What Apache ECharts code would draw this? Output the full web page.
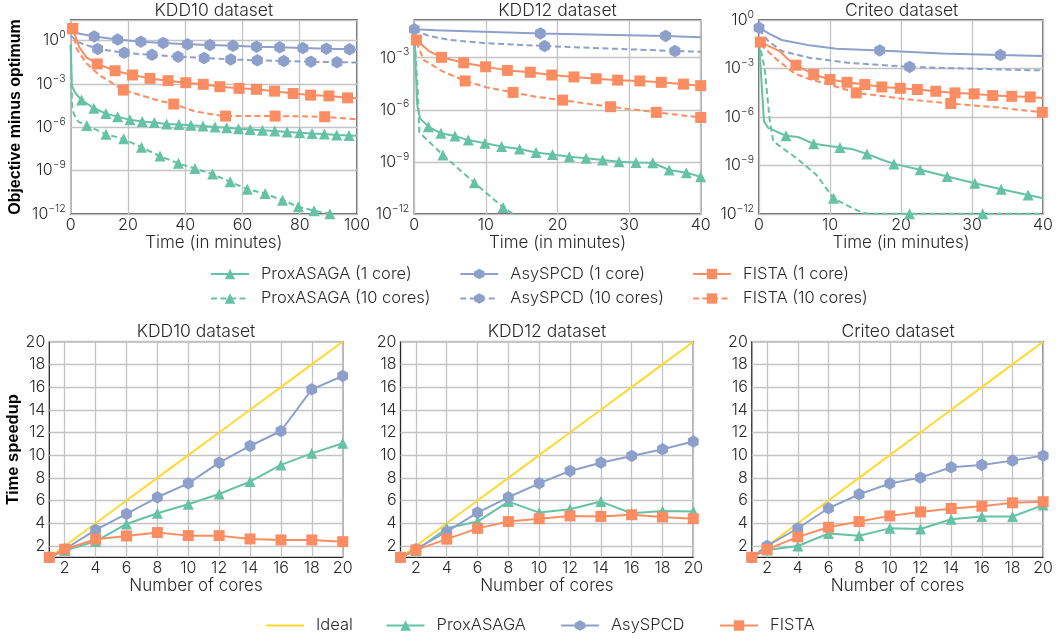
<!DOCTYPE html>
<html><head><meta charset="utf-8">
<script src="https://cdn.jsdelivr.net/npm/echarts@6/dist/echarts.min.js"></script>
<style>html,body{margin:0;padding:0;background:#fff}#c{width:1056px;height:639px}</style>
</head><body><div id="c"></div><script>
// ---------------- DATA ----------------
const topTitles = ['KDD10 dataset', 'KDD12 dataset', 'Criteo dataset'];
const bottomTitles = ['KDD10 dataset', 'KDD12 dataset', 'Criteo dataset'];
const topXMax = [100, 40, 40];
const topXInterval = [20, 10, 10];
const topYMin = 1e-12;
const topYMax = [27, 0.148, 1];

// KDD10 (time in minutes, objective minus optimum); *_line = extra curve points, *_marks = marker points
const k10_prox1_line = [[0,0.5],[0.4,8e-4],[1.5,2.5e-4],[100,2.6e-7]];
const k10_prox1_marks = [[3.8,7.8e-5],[8.1,2.1e-5],[12.3,8.9e-6],[16.4,5.5e-6],[20.7,3.3e-6],[25,2.5e-6],[29.2,2.2e-6],[33.5,1.7e-6],[37.8,1.58e-6],[42,1.38e-6],[46.2,1.26e-6],[50.4,1.07e-6],[54.5,9.5e-7],[58.6,8.1e-7],[62.7,7.1e-7],[67,6.3e-7],[71.3,5.5e-7],[75.6,4.8e-7],[80,4.2e-7],[84.3,3.7e-7],[88.6,3.4e-7],[92.9,3.0e-7],[97.2,2.75e-7]];
const k10_prox10_line = [[0,0.5],[0.5,3e-5],[1,9.3e-6],[2.6,2.5e-6],[96,4e-13],[100,2.5e-13]];
const k10_prox10_marks = [[5.6,1.35e-6],[12.3,3.3e-7],[18.5,1.6e-7],[24.7,4.1e-8],[31.2,1.02e-8],[37.6,3.2e-9],[43.4,1.4e-9],[49.6,5.8e-10],[55.7,1.7e-10],[61.7,5.2e-11],[67.9,2.6e-11],[74,8.9e-12],[79.5,3.2e-12],[85,1.7e-12],[90.5,1.05e-12]];
const k10_asy1_line = [[0,4.0],[100,0.24]];
const k10_asy1_marks = [[8.2,1.95],[16.4,1.2],[24.5,0.85],[32.3,0.7],[40.8,0.56],[48.6,0.5],[56.7,0.44],[64.9,0.38],[73,0.35],[81.1,0.31],[89.3,0.28],[97.4,0.25]];
const k10_asy10_line = [[0,2.3],[2.5,0.8],[100,0.031]];
const k10_asy10_marks = [[9.4,0.27],[18.7,0.145],[28.4,0.104],[37.5,0.078],[46.6,0.063],[55.9,0.05],[65.2,0.044],[74.4,0.039],[83.9,0.035],[93,0.032]];
const k10_fista1_line = [[3,0.35],[5.5,0.07],[100,1.05e-4]];
const k10_fista1_marks = [[0.7,6.8],[9.3,0.0245],[15.5,8.3e-3],[21.6,4.2e-3],[27.7,2.45e-3],[34,1.7e-3],[40.2,1.23e-3],[46.3,9.5e-4],[52.1,6.5e-4],[58.8,5e-4],[64.9,4.3e-4],[71.2,3.2e-4],[77.7,2.2e-4],[83.8,1.7e-4],[90.2,1.5e-4],[96.7,1.1e-4]];
const k10_fista10_line = [[2,0.3],[5.5,0.027],[10,4.2e-3],[13.7,1.45e-3],[24.2,1.7e-4],[30,7.8e-5],[42.8,1.4e-5],[48.6,8.3e-6],[62,6.2e-6],[80,5.8e-6],[100,3.5e-6]];
const k10_fista10_marks = [[0.7,6.8],[18.4,3.8e-4],[36,4.1e-5],[54.1,6e-6],[71.4,6e-6],[88.7,5.4e-6]];

// KDD12
const k12_prox1_line = [[0,0.03],[0.4,2e-6],[0.8,3.2e-7]];
const k12_prox1_marks = [[1.96,1.07e-7],[3.72,4.4e-8],[5.68,3.1e-8],[7.54,1.8e-8],[9.87,1.17e-8],[12.2,7.6e-9],[14.7,5.5e-9],[17,3.5e-9],[19.3,2.7e-9],[21.65,2.0e-9],[24,1.6e-9],[26.3,1.3e-9],[28.6,1.02e-9],[30.96,9.3e-10],[33.3,8.9e-10],[35.6,3.4e-10],[38,2.4e-10],[40,1.4e-10]];
const k12_prox10_line = [[0,0.03],[0.5,1e-5],[0.7,5e-8],[13.8,1e-12],[16,4e-13]];
const k12_prox10_marks = [[4,2.5e-9],[8.4,6.3e-11],[12.4,2.4e-12]];
const k12_asy1_line = [[3,0.038],[40,0.0148]];
const k12_asy1_marks = [[0,0.043],[17.6,0.025],[35.1,0.018]];
const k12_asy10_line = [[0,0.04],[2,0.018],[5,0.0105],[10,6.8e-3],[40,2.2e-3]];
const k12_asy10_marks = [[18.2,4.7e-3],[36.4,2.4e-3]];
const k12_fista1_line = [[2,2.5e-3]];
const k12_fista1_marks = [[0.3,0.0105],[3.8,1.05e-3],[6.9,5.1e-4],[9.96,3.0e-4],[13,1.86e-4],[16.2,1.45e-4],[19.2,1e-4],[22.3,7.8e-5],[25.4,6.2e-5],[28.4,5.1e-5],[31.5,4.6e-5],[34.5,3.8e-5],[37.6,3.0e-5],[40,2.45e-5]];
const k12_fista10_line = [[0.3,8e-3],[1.3,7.4e-4],[4,1.6e-4],[10,2e-5],[17,5.6e-6],[24,2.3e-6],[30.5,1.05e-6],[37,5e-7]];
const k12_fista10_marks = [[7.1,4.6e-5],[13.8,1e-5],[20.7,3.6e-6],[27.4,1.5e-6],[33.8,7.1e-7],[40,3.6e-7]];

// Criteo
const cr_prox1_line = [[0,0.05],[0.7,5.4e-7],[1.3,2.1e-7],[5.5,5.8e-8],[13.2,1.02e-8],[17.4,2.2e-9],[40,9.3e-12]];
const cr_prox1_marks = [[3.8,6.9e-8],[7.7,2.2e-8],[11.4,1.3e-8],[15.2,5.2e-9],[19,1.26e-9],[22.7,5.4e-10],[26.5,2.1e-10],[30.4,7.9e-11],[34.1,3.4e-11],[37.9,1.5e-11]];
const cr_prox10_line = [[0,0.05],[0.8,1e-3],[1.5,6.8e-7],[2,3.1e-8],[5.3,2.8e-9],[8.1,2.6e-10],[12.8,2.8e-12],[14.6,1.2e-12],[15.6,1.02e-12],[40,1.02e-12]];
const cr_prox10_marks = [[10.5,9.3e-12],[21.2,1.02e-12],[31.5,1.02e-12]];
const cr_asy1_line = [[1.5,0.14],[3.2,0.058],[7.1,0.027],[10.9,0.0166],[25.8,8.5e-3],[40,5.9e-3]];
const cr_asy1_marks = [[0,0.33],[17,0.0132],[34,6.8e-3]];
const cr_asy10_line = [[0,0.26],[1.3,0.05],[3.2,0.012],[7.1,4.6e-3],[12.8,2.2e-3],[30.5,9.5e-4],[40,7.6e-4]];
const cr_asy10_marks = [[21.2,1.26e-3]];
const cr_fista1_line = [[2.9,0.012],[4,4e-3],[40,1.5e-5]];
const cr_fista1_marks = [[0.2,0.043],[5.2,1.6e-3],[7.7,4.3e-4],[10,2.1e-4],[12.4,1.4e-4],[14.9,1.02e-4],[17.3,7.2e-5],[19.9,6e-5],[22.3,5e-5],[24.9,3.9e-5],[27.6,3.1e-5],[30.3,2.7e-5],[32.9,2.1e-5],[35.6,1.9e-5],[38.2,1.74e-5]];
const cr_fista10_line = [[0.2,0.031],[2.5,3.6e-3],[5,5e-4],[7.1,2.2e-4],[10,1e-4],[21.2,1.2e-5],[32.9,4.2e-6]];
const cr_fista10_marks = [[13.7,3.1e-5],[27,6.8e-6],[39.9,1.95e-6]];

// Speedup (number of cores vs time speedup)
const cores = [1,2,4,6,8,10,12,14,16,18,20];
const idealSpeedup = [1,2,4,6,8,10,12,14,16,18,20];
const k10_prox_speed = [1,1.6,2.4,3.94,4.88,5.67,6.58,7.67,9.14,10.16,11.05];
const k10_asy_speed = [1,1.71,3.41,4.82,6.29,7.52,9.34,10.81,12.13,15.8,16.98];
const k10_fista_speed = [1,1.71,2.59,2.88,3.18,2.91,2.91,2.62,2.53,2.53,2.38];
const k12_prox_speed = [1,1.6,3.56,4.15,5.91,4.94,5.23,5.91,4.88,5.09,5.03];
const k12_asy_speed = [1,1.71,3.27,4.94,6.29,7.52,8.61,9.34,9.93,10.52,11.2];
const k12_fista_speed = [1,1.65,2.6,3.55,4.15,4.4,4.65,4.6,4.75,4.55,4.4];
const cr_prox_speed = [1,1.65,2.0,3.1,2.9,3.55,3.5,4.35,4.6,4.6,5.6];
const cr_asy_speed = [1,2.0,3.56,5.32,6.55,7.5,8.02,8.93,9.14,9.52,9.96];
const cr_fista_speed = [1,1.7,2.8,3.65,4.15,4.65,5.0,5.3,5.5,5.8,5.9];
const speedTicks = [2,4,6,8,10,12,14,16,18,20];
const coreTicks = [2,4,6,8,10,12,14,16,18,20];

// ---------------- STYLE ----------------
const FONT = 'Inter';
const FW = 300;
const TXT = '#2a2a2a';
const GRIDC = '#c4c4c4';
const C_PROX = '#66c2a5', C_ASY = '#8da0cb', C_FISTA = '#fc8d62', C_IDEAL = '#ffd92f';
const HEX = 'path://M0,-10L8.66,-5L8.66,5L0,10L-8.66,5L-8.66,-5Z';
const DASH = [6, 3.5];

const topGrids = [
  {left:70.7, top:20, width:286.3, height:194},
  {left:414.3, top:20, width:286.4, height:194},
  {left:759, top:20, width:285.3, height:194}
];
const botGrids = [
  {left:49.3, top:341.7, width:293.4, height:215.6},
  {left:400.5, top:341.7, width:292.8, height:215.6},
  {left:751.8, top:341.7, width:292.5, height:215.6}
];

function mergeXY(a, b) { return a.concat(b).sort((p, q) => p[0] - q[0]); }

function supLabel(v) {
  const l = Math.log10(v), e = Math.round(l);
  if (Math.abs(l - e) > 1e-6 || e % 3 !== 0) return '';
  return '{b|10}{s|' + (e < 0 ? '\u2212' : '') + Math.abs(e) + '}';
}

const grid = [], xAxis = [], yAxis = [], series = [], title = [];
const baseLabel = {fontFamily: FONT, fontWeight: FW, color: TXT, fontSize: 16};
const nameStyle = {fontFamily:FONT, fontWeight:FW, fontSize:17, color:TXT};
const titleStyle = {fontFamily: FONT, fontWeight: FW, fontSize: 17.5, color: TXT};

topGrids.concat(botGrids).forEach(g => grid.push(Object.assign({show:true, borderColor:'#262626', borderWidth:1.3, backgroundColor:'#fff', containLabel:false}, g)));

for (let i = 0; i < 3; i++) {
  const g = topGrids[i];
  title.push({text: topTitles[i], left: g.left + g.width / 2, top: 2, padding: 0, textAlign: 'center', textStyle: titleStyle});
  xAxis.push({type:'value', gridIndex:i, min:0, max:topXMax[i], interval:topXInterval[i],
    axisLine:{show:false}, axisTick:{show:false},
    splitLine:{show:true, lineStyle:{color:GRIDC, width:1.3}},
    axisLabel:Object.assign({margin:3}, baseLabel),
    name:'Time (in minutes)', nameLocation:'middle', nameGap:20, nameTextStyle:nameStyle});
  const ya = {type:'log', logBase:10, gridIndex:i, min:topYMin, max:topYMax[i], interval:3,
    axisLine:{show:false}, axisTick:{show:false},
    splitLine:{show:true, lineStyle:{color:GRIDC, width:1.3}},
    axisLabel:{margin:5, formatter:supLabel, rich:{
      b:{fontFamily:FONT, fontWeight:FW, fontSize:16, color:TXT, lineHeight:22},
      s:{fontFamily:FONT, fontWeight:FW, fontSize:10.5, color:TXT, lineHeight:10, verticalAlign:'top'}}}};
  if (i === 0) {
    ya.name = 'Objective minus optimum'; ya.nameLocation = 'middle'; ya.nameGap = 47;
    ya.nameTextStyle = {fontFamily:'Liberation Sans', fontWeight:'bold', fontSize:16, color:'#000'};
  }
  yAxis.push(ya);
}
for (let i = 0; i < 3; i++) {
  const g = botGrids[i], gi = i + 3;
  title.push({text: bottomTitles[i], left: g.left + g.width / 2, top: 323, padding: 0, textAlign: 'center', textStyle: titleStyle});
  xAxis.push({type:'value', gridIndex:gi, min:1, max:20, interval:1,
    axisLine:{show:false}, axisTick:{show:false, customValues:coreTicks},
    splitLine:{show:true, lineStyle:{color:GRIDC, width:1.3}},
    axisLabel:Object.assign({margin:3, customValues:coreTicks}, baseLabel),
    name:'Number of cores', nameLocation:'middle', nameGap:20, nameTextStyle:nameStyle});
  const ya = {type:'value', gridIndex:gi, min:1, max:20, interval:1,
    axisLine:{show:false}, axisTick:{show:false, customValues:speedTicks},
    splitLine:{show:true, lineStyle:{color:GRIDC, width:1.3}},
    axisLabel:Object.assign({margin:4, customValues:speedTicks}, baseLabel)};
  if (i === 0) {
    ya.name = 'Time speedup'; ya.nameLocation = 'middle'; ya.nameGap = 26;
    ya.nameTextStyle = {fontFamily:'Liberation Sans', fontWeight:'bold', fontSize:16.5, color:'#000'};
  }
  yAxis.push(ya);
}

function topCurve(name, color, sym, size, dashed, gi, line, marks) {
  series.push({name, type:'line', xAxisIndex:gi, yAxisIndex:gi, data:mergeXY(line, marks),
    showSymbol:false, symbol:sym, symbolSize:size, symbolKeepAspect:true,
    lineStyle:{color, width:2, type: dashed ? DASH : 'solid'}, itemStyle:{color},
    animation:false, silent:true, clip:true, z:2});
  series.push({name, type:'scatter', xAxisIndex:gi, yAxisIndex:gi, data:marks,
    symbol:sym, symbolSize:size, symbolKeepAspect:true, itemStyle:{color, opacity:1},
    animation:false, silent:true, clip:true, z:3});
}
const topSets = [
  [k10_prox1_line,k10_prox1_marks,k10_prox10_line,k10_prox10_marks,k10_asy1_line,k10_asy1_marks,k10_asy10_line,k10_asy10_marks,k10_fista1_line,k10_fista1_marks,k10_fista10_line,k10_fista10_marks],
  [k12_prox1_line,k12_prox1_marks,k12_prox10_line,k12_prox10_marks,k12_asy1_line,k12_asy1_marks,k12_asy10_line,k12_asy10_marks,k12_fista1_line,k12_fista1_marks,k12_fista10_line,k12_fista10_marks],
  [cr_prox1_line,cr_prox1_marks,cr_prox10_line,cr_prox10_marks,cr_asy1_line,cr_asy1_marks,cr_asy10_line,cr_asy10_marks,cr_fista1_line,cr_fista1_marks,cr_fista10_line,cr_fista10_marks]
];
topSets.forEach((s, gi) => {
  topCurve('ProxASAGA (1 core)', C_PROX, 'triangle', 11, false, gi, s[0], s[1]);
  topCurve('ProxASAGA (10 cores)', C_PROX, 'triangle', 11, true, gi, s[2], s[3]);
  topCurve('AsySPCD (1 core)', C_ASY, HEX, 12.5, false, gi, s[4], s[5]);
  topCurve('AsySPCD (10 cores)', C_ASY, HEX, 12.5, true, gi, s[6], s[7]);
  topCurve('FISTA (1 core)', C_FISTA, 'rect', 11, false, gi, s[8], s[9]);
  topCurve('FISTA (10 cores)', C_FISTA, 'rect', 11, true, gi, s[10], s[11]);
});

const zip = ys => cores.map((c, k) => [c, ys[k]]);
const botSets = [
  [k10_prox_speed, k10_asy_speed, k10_fista_speed],
  [k12_prox_speed, k12_asy_speed, k12_fista_speed],
  [cr_prox_speed, cr_asy_speed, cr_fista_speed]
];
botSets.forEach((s, i) => {
  const gi = i + 3;
  const common = {type:'line', xAxisIndex:gi, yAxisIndex:gi, animation:false, silent:true, clip:true, symbolKeepAspect:true};
  series.push(Object.assign({name:'Ideal', data:zip(idealSpeedup), symbol:'none', showSymbol:false,
    lineStyle:{color:C_IDEAL, width:2}, itemStyle:{color:C_IDEAL}}, common));
  series.push(Object.assign({name:'ProxASAGA', data:zip(s[0]), symbol:'triangle', symbolSize:11, showSymbol:true,
    lineStyle:{color:C_PROX, width:2}, itemStyle:{color:C_PROX}}, common));
  series.push(Object.assign({name:'AsySPCD', data:zip(s[1]), symbol:HEX, symbolSize:12.5, showSymbol:true,
    lineStyle:{color:C_ASY, width:2}, itemStyle:{color:C_ASY}}, common));
  series.push(Object.assign({name:'FISTA', data:zip(s[2]), symbol:'rect', symbolSize:11, showSymbol:true,
    lineStyle:{color:C_FISTA, width:2}, itemStyle:{color:C_FISTA}}, common));
});

const legTxt = {fontFamily:FONT, fontWeight:FW, fontSize:16.5, color:TXT,
  rich:{t:{fontFamily:FONT, fontWeight:FW, fontSize:16.5, color:TXT, padding:[0,0,0,7]}}};
const legFmt = n => '{t|' + n + '}';
const legend = [
  {data:['ProxASAGA (1 core)','ProxASAGA (10 cores)'], left:210},
  {data:['AsySPCD (1 core)','AsySPCD (10 cores)'], left:459.3},
  {data:['FISTA (1 core)','FISTA (10 cores)'], left:692}
].map(l => Object.assign({orient:'vertical', top:265.5, padding:0, itemWidth:38, itemHeight:13, itemGap:7.5,
  selectedMode:false, textStyle:legTxt, formatter:legFmt}, l));
[[{name:'Ideal', icon:'path://M0,0L38,0L38,2L0,2Z'},266],['ProxASAGA',385.6],['AsySPCD',560],['FISTA',719]].forEach(([n, x]) => {
  legend.push({data:[n], left:x, top:617, padding:0, itemWidth:38, itemHeight:13, selectedMode:false,
    textStyle:legTxt, formatter:legFmt});
});

const chart = echarts.init(document.getElementById('c'), null, {renderer:'canvas'});
chart.setOption({backgroundColor:'#fff', animation:false, title, grid, xAxis, yAxis, series, legend});
</script></body></html>
